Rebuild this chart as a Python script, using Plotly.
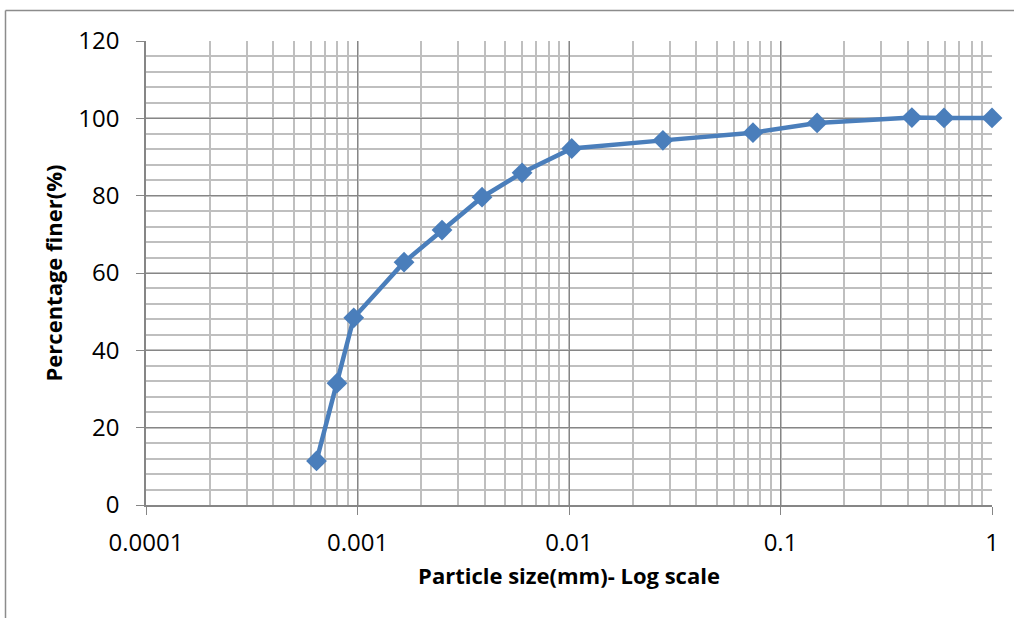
import plotly.graph_objects as go

particle_size_mm = [0.00064, 0.0008, 0.00096, 0.00166, 0.00251, 0.00388, 0.0060,
                    0.0103, 0.0278, 0.0741, 0.149, 0.418, 0.593, 1.0]
percent_finer = [11.4, 31.5, 48.4, 62.8, 71.1, 79.6, 85.9,
                 92.2, 94.3, 96.3, 98.8, 100.2, 100.1, 100.1]

x_tick_vals = [0.0001, 0.001, 0.01, 0.1, 1]
x_tick_text = ["0.0001", "0.001", "0.01", "0.1", "1"]
y_tick_vals = [0, 20, 40, 60, 80, 100, 120]

blue = "#4A7EBB"
major_grid = "#868686"
minor_grid = "#BFBFBF"
font_family = "Open Sans, Lato, sans-serif"

fig = go.Figure()
fig.add_trace(go.Scatter(
    x=particle_size_mm, y=percent_finer, mode="lines+markers",
    line=dict(color=blue, width=4.5),
    marker=dict(symbol="diamond", size=16, color=blue),
    showlegend=False, cliponaxis=False,
))

fig.update_layout(
    width=1014, height=618,
    margin=dict(l=146, r=22, t=41, b=113),
    paper_bgcolor="white", plot_bgcolor="white",
    font=dict(family=font_family, color="black"),
    xaxis=dict(
        type="log", range=[-4, 0],
        tickvals=x_tick_vals, ticktext=x_tick_text,
        tickfont=dict(size=24), ticklabelstandoff=7,
        ticks="outside", ticklen=8, tickcolor=major_grid, tickwidth=1,
        showgrid=True, gridcolor=major_grid, gridwidth=1.2,
        showline=True, linecolor=major_grid, linewidth=1.5,
        minor=dict(dtick="D1", showgrid=True, gridcolor=minor_grid, gridwidth=1.6, ticks=""),
        zeroline=False,
        title=dict(text="<b>Particle size(mm)- Log scale</b>", font=dict(size=22), standoff=12),
    ),
    yaxis=dict(
        range=[0, 120], tickvals=y_tick_vals,
        tickfont=dict(size=24), ticklabelstandoff=12,
        ticks="outside", ticklen=8, tickcolor=major_grid, tickwidth=1,
        showgrid=True, gridcolor=major_grid, gridwidth=1.2,
        showline=True, linecolor=major_grid, linewidth=1.5,
        minor=dict(dtick=4, showgrid=True, gridcolor=minor_grid, gridwidth=1.6, ticks=""),
        zeroline=False,
        title=dict(text="<b>Percentage finer(%)</b>", font=dict(size=22), standoff=10),
    ),
    shapes=[
        dict(type="line", xref="paper", yref="paper",
             x0=(5.5 - 146) / 846, x1=(5.5 - 146) / 846,
             y0=(505 - 618) / 464, y1=(505 - 10.5) / 464,
             line=dict(color="#8C8C8C", width=1.5)),
        dict(type="line", xref="paper", yref="paper",
             x0=(5.5 - 146) / 846, x1=(1014 - 146) / 846,
             y0=(505 - 10.5) / 464, y1=(505 - 10.5) / 464,
             line=dict(color="#8C8C8C", width=1.5)),
    ],
)

fig.write_html("out.html")
